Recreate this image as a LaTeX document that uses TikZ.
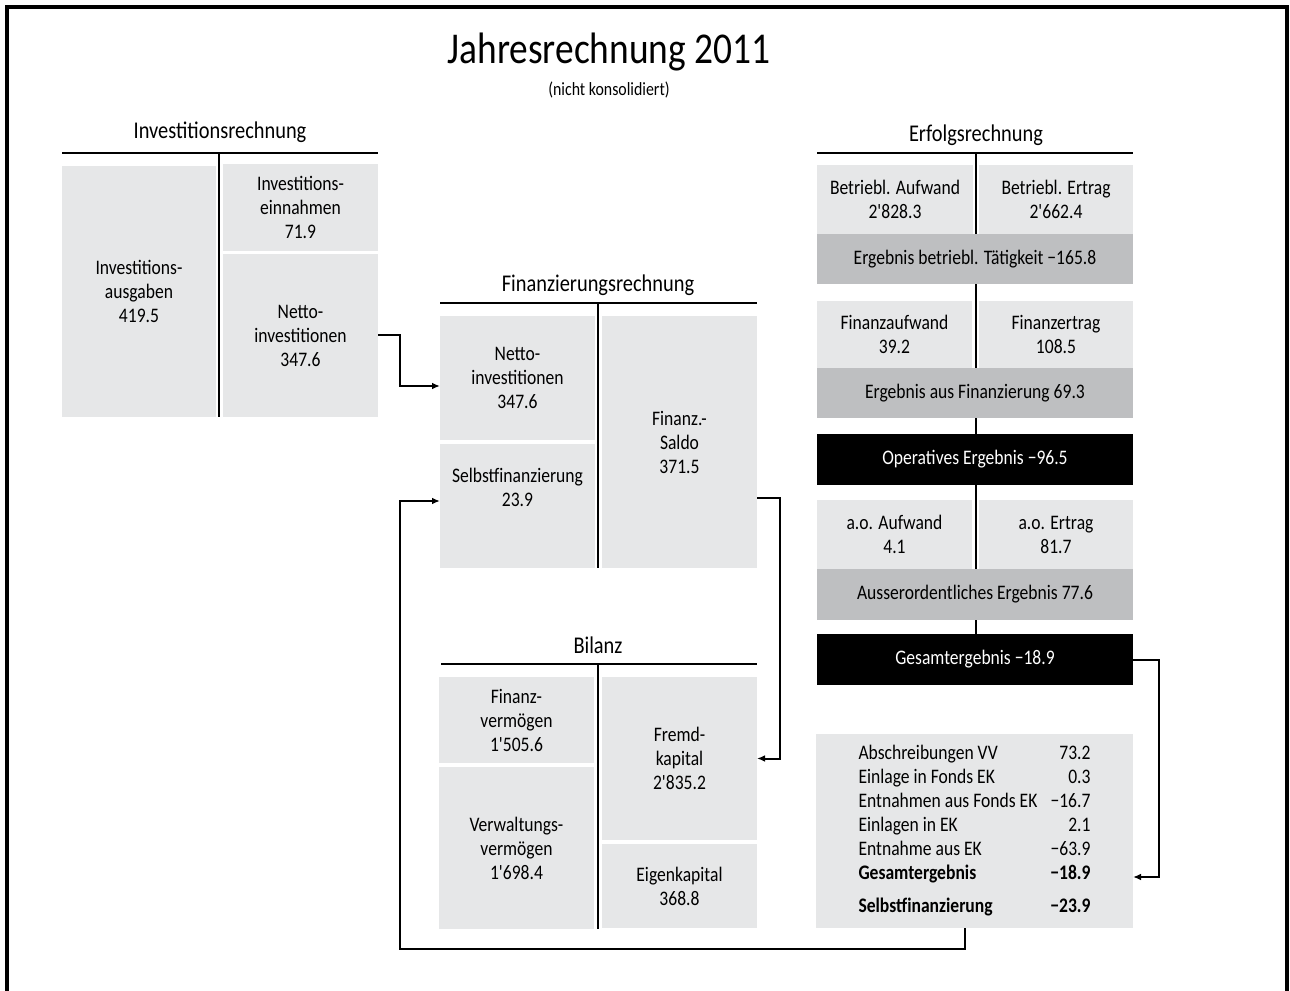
\documentclass[tikz,border=0pt]{standalone}
\usepackage{fontspec}
\newfontfamily\carl{Carlito}[FakeStretch=0.85]
\usetikzlibrary{arrows.meta}
\definecolor{lightcell}{HTML}{E6E7E8}
\definecolor{midcell}{HTML}{BEBFC1}

\begin{document}
\begin{tikzpicture}[x=0.75pt, y=-0.75pt,
    every node/.style={font=\carl},
    cellsize/.style 2 args={minimum width=#1*0.75pt, minimum height=#2*0.75pt},
    cell/.style={rectangle, fill=lightcell, inner sep=0pt, outer sep=0pt, align=center, font=\carl\fontsize{15.5}{18}\selectfont},
    sumcell/.style={cell, fill=midcell},
    totcell/.style={cell, fill=black, text=white},
    head/.style={font=\carl\fontsize{18}{20}\selectfont},
    rule/.style={line width=1.5pt},
    conn/.style={line width=1.5pt, -{Latex[length=6pt, width=5pt]}}]

    \useasboundingbox (0,0) rectangle (1290,991);
    % frame
    \draw[line width=2.5pt] (7,991) -- (7,7) -- (1287,7) -- (1287,991);

    \node[font=\carl\fontsize{33}{36}\selectfont] (title) at (609,52) {Jahresrechnung 2011};
    \node[font=\carl\fontsize{14}{16}\selectfont] (subtitle) at (609,90) {(nicht konsolidiert)};

    % Investitionsrechnung
    \node[head] (invHead) at (220,132) {Investitionsrechnung};
    \draw[rule] (62,153) -- (378,153);
    \draw[rule] (219,153) -- (219,417);
    \node[cell, cellsize={154}{251}] (invAus) at (139,291.5) {Investitions-\\ausgaben\\419.5};
    \node[cell, cellsize={155}{87}] (invEin) at (300.5,207.5) {Investitions-\\einnahmen\\71.9};
    \node[cell, cellsize={155}{163}] (invNet) at (300.5,335.5) {Netto-\\investitionen\\347.6};

    % Finanzierungsrechnung
    \node[head] (finHead) at (598,285) {Finanzierungsrechnung};
    \draw[rule] (440,303) -- (757,303);
    \draw[rule] (598,303) -- (598,568);
    \node[cell, cellsize={155}{124}] (finNet) at (517.5,378) {Netto-\\investitionen\\347.6};
    \node[cell, cellsize={155}{124}] (finSelbst) at (517.5,506) {Selbstfinanzierung\\23.9\\[10pt]};
    \node[cell, cellsize={155}{252}] (finSaldo) at (679.5,442) {Finanz.-\\Saldo\\371.5};

    % Bilanz
    \node[head] (bilHead) at (598,645) {Bilanz};
    \draw[rule] (441,664) -- (757,664);
    \draw[rule] (598,664) -- (598,929);
    \node[cell, cellsize={155}{86}] (bilFin) at (516.5,720) {Finanz-\\vermögen\\1'505.6};
    \node[cell, cellsize={155}{162}] (bilVer) at (516.5,848) {Verwaltungs-\\vermögen\\1'698.4};
    \node[cell, cellsize={155}{163}] (bilFremd) at (679.5,758.5) {Fremd-\\kapital\\2'835.2};
    \node[cell, cellsize={155}{84}] (bilEigen) at (679.5,886) {Eigenkapital\\368.8};

    % Erfolgsrechnung
    \node[head] (erfHead) at (976,135) {Erfolgsrechnung};
    \draw[rule] (817,153) -- (1133,153);
    \draw[rule] (976,153) -- (976,634);
    \node[cell, cellsize={156}{69}] (betrAuf) at (895,199.5) {Betriebl. Aufwand\\2'828.3};
    \node[cell, cellsize={154}{69}] (betrErt) at (1056,199.5) {Betriebl. Ertrag\\2'662.4};
    \node[sumcell, cellsize={316}{50}] (betrErg) at (975,259) {Ergebnis betriebl. Tätigkeit −165.8};
    \node[cell, cellsize={155}{67}] (finAuf) at (894.5,334.5) {Finanzaufwand\\39.2};
    \node[cell, cellsize={154}{67}] (finErt) at (1056,334.5) {Finanzertrag\\108.5};
    \node[sumcell, cellsize={316}{50}] (finErg) at (975,393) {Ergebnis aus Finanzierung 69.3};
    \node[totcell, cellsize={316}{51}] (opErg) at (975,459.5) {Operatives Ergebnis −96.5};
    \node[cell, cellsize={155}{69}] (aoAuf) at (894.5,534.5) {a.o. Aufwand\\4.1};
    \node[cell, cellsize={154}{69}] (aoErt) at (1056,534.5) {a.o. Ertrag\\81.7};
    \node[sumcell, cellsize={316}{51}] (aoErg) at (975,594.5) {Ausserordentliches Ergebnis 77.6};
    \node[totcell, cellsize={316}{51}] (gesErg) at (975,659.5) {Gesamtergebnis −18.9};

    % Herleitung Selbstfinanzierung
    \node[cell, cellsize={317}{194}] (tab) at (974.5,831) {%
        \begin{tabular*}{174pt}{@{}l@{\extracolsep{\fill}}r@{}}
        Abschreibungen VV & 73.2\\
        Einlage in Fonds EK & 0.3\\
        Entnahmen aus Fonds EK & −16.7\\
        Einlagen in EK & 2.1\\
        Entnahme aus EK & −63.9\\
        \textbf{Gesamtergebnis} & \textbf{−18.9}\\[6.5pt]
        \textbf{Selbstfinanzierung} & \textbf{−23.9}
        \end{tabular*}};

    \coordinate (selbstCorner) at (400,949);

    \draw[conn] (invNet.east) -- ++(22,0) |- ([yshift=-6pt]finNet.west);
    \draw[conn] ([yshift=-42pt]finSaldo.east) -- ++(23,0) |- (bilFremd.east);
    \draw[conn] (gesErg.east) -- ++(26,0) |- ([yshift=-34.5pt]tab.east);
    \draw[conn] ([xshift=-7pt]tab.south) |- (selbstCorner) |- ([yshift=3.75pt]finSelbst.west);
\end{tikzpicture}
\end{document}
